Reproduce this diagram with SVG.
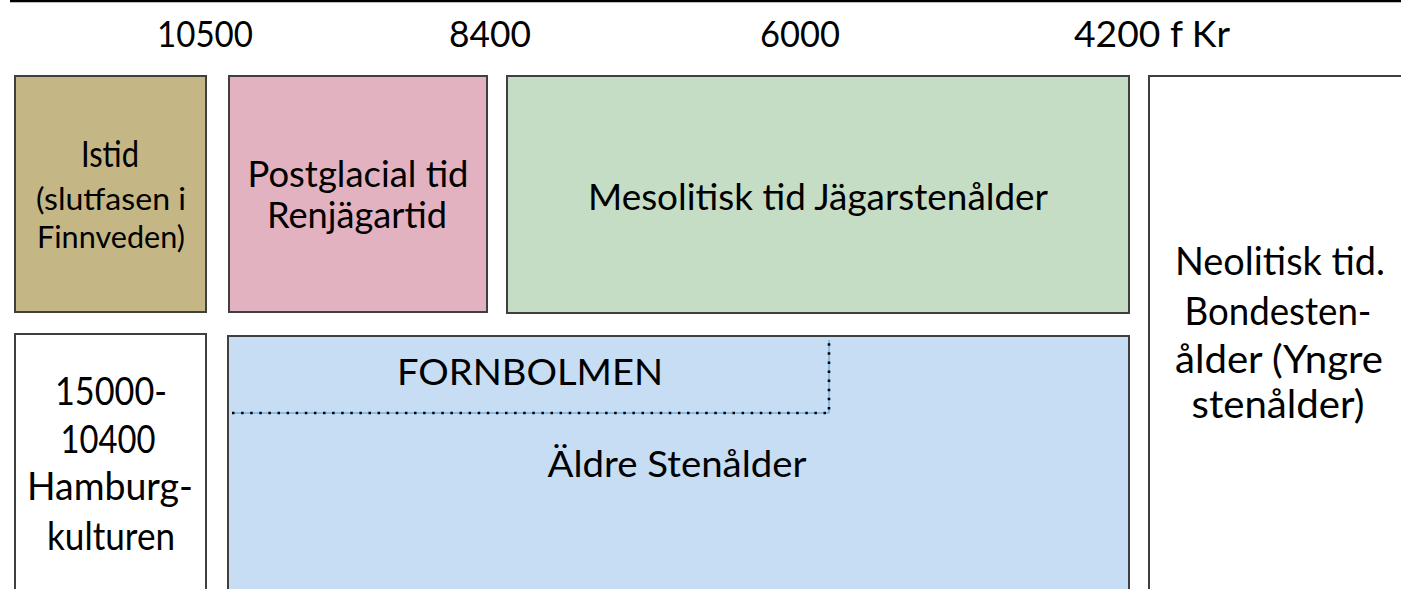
<svg xmlns="http://www.w3.org/2000/svg" width="1401" height="589" viewBox="0 0 1401 589">
<style>
text{font-family:Lato,"Open Sans","Liberation Sans",sans-serif;fill:#000;text-anchor:middle}
.box{stroke:#3f3f3f;stroke-width:2}
.t{font-size:37px}
.s{font-size:31px}
.b{font-size:39px}
</style>
<rect width="1401" height="589" fill="#fff"/>
<line x1="10" y1="1" x2="1401" y2="1" stroke="#000" stroke-width="2.5"/>
<g id="axis">
<text class="t" x="205" y="47" textLength="96" lengthAdjust="spacingAndGlyphs">10500</text>
<text class="t" x="490" y="47" textLength="82" lengthAdjust="spacingAndGlyphs">8400</text>
<text class="t" x="800" y="47" textLength="80" lengthAdjust="spacingAndGlyphs">6000</text>
<text class="t" x="1152" y="47" textLength="156" lengthAdjust="spacingAndGlyphs">4200 f Kr</text>
</g>
<g id="istid">
<rect class="box" x="15" y="76" width="191" height="236" fill="#c4b785"/>
<text class="t" x="110" y="167" textLength="58" lengthAdjust="spacingAndGlyphs">Istid</text>
<text class="s" x="111" y="210" textLength="150" lengthAdjust="spacingAndGlyphs">(slutfasen i</text>
<text class="s" x="111" y="248" textLength="148" lengthAdjust="spacingAndGlyphs">Finnveden)</text>
</g>
<g id="postglacial">
<rect class="box" x="229" y="76" width="258" height="236" fill="#e3b2c1"/>
<text class="t" x="358" y="187" textLength="221" lengthAdjust="spacingAndGlyphs">Postglacial tid</text>
<text class="t" x="357" y="228" textLength="180" lengthAdjust="spacingAndGlyphs">Renjägartid</text>
</g>
<g id="mesolitisk">
<rect class="box" x="507" y="76" width="622" height="237" fill="#c6ddc5"/>
<text class="t" x="818" y="210" textLength="460" lengthAdjust="spacingAndGlyphs">Mesolitisk tid Jägarstenålder</text>
</g>
<g id="neolitisk">
<rect class="box" x="1149" y="76" width="260" height="520" fill="#fff"/>
<text class="b" x="1280" y="275" textLength="210" lengthAdjust="spacingAndGlyphs">Neolitisk tid.</text>
<text class="b" x="1278" y="325" textLength="187" lengthAdjust="spacingAndGlyphs">Bondesten-</text>
<text class="b" x="1279" y="373" textLength="208" lengthAdjust="spacingAndGlyphs">ålder (Yngre</text>
<text class="b" x="1278" y="418" textLength="173" lengthAdjust="spacingAndGlyphs">stenålder)</text>
</g>
<g id="hamburg">
<rect class="box" x="15" y="334" width="191" height="262" fill="#fff"/>
<text class="b" x="111" y="405" textLength="112" lengthAdjust="spacingAndGlyphs">15000-</text>
<text class="b" x="108" y="453" textLength="95" lengthAdjust="spacingAndGlyphs">10400</text>
<text class="b" x="110" y="500" textLength="166" lengthAdjust="spacingAndGlyphs">Hamburg-</text>
<text class="b" x="111" y="550" textLength="128" lengthAdjust="spacingAndGlyphs">kulturen</text>
</g>
<g id="aldre">
<rect class="box" x="228" y="336" width="901" height="260" fill="#c6ddf4"/>
<text class="t" x="530" y="385" textLength="266" lengthAdjust="spacingAndGlyphs">FORNBOLMEN</text>
<text class="t" x="677" y="477" textLength="259" lengthAdjust="spacingAndGlyphs">Äldre Stenålder</text>
</g>
<g id="connectors">
<polyline points="232,413 829,413 829,340" fill="none" stroke="#4a9bd6" stroke-width="1"/>
<polyline points="232,413 829,413 829,340" fill="none" stroke="#000" stroke-width="2.6" stroke-dasharray="2.5 6.6"/>
</g>
</svg>
